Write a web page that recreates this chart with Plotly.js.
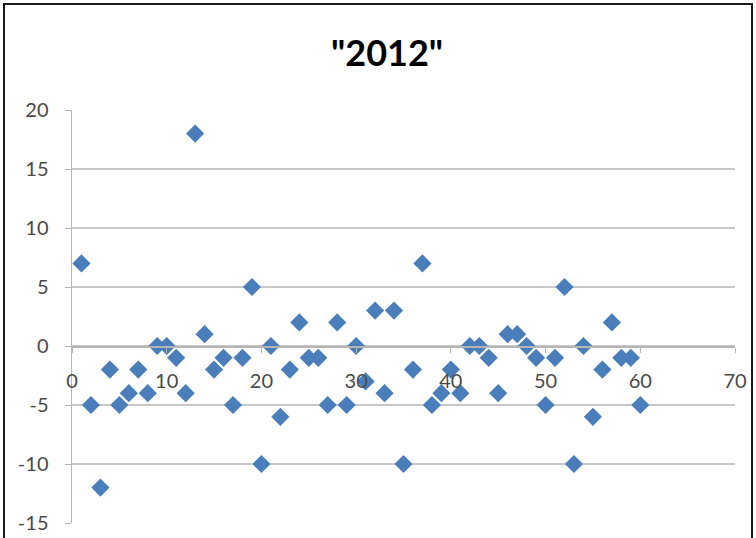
<!DOCTYPE html>
<html>
<head>
<meta charset="utf-8">
<script src="https://cdn.plot.ly/plotly-3.0.1.min.js"></script>
<style>
  html, body { margin: 0; padding: 0; background: #fff; }
  #wrap { position: relative; width: 756px; height: 538px; overflow: hidden; }
  #chart { position: absolute; left: 0; top: 0; width: 756px; height: 538px; }
  #frame { position: absolute; left: 3px; top: 3px; width: 746px; height: 545px;
           border: 2px solid #1a1a1a; pointer-events: none; }
</style>
</head>
<body>
<div id="wrap">
  <div id="chart"></div>
  <div id="frame"></div>
</div>
<script>
const titleText = '"2012"';
const xValues = [1,2,3,4,5,6,7,8,9,10,11,12,13,14,15,16,17,18,19,20,
                 21,22,23,24,25,26,27,28,29,30,31,32,33,34,35,36,37,38,39,40,
                 41,42,43,44,45,46,47,48,49,50,51,52,53,54,55,56,57,58,59,60];
const yValues = [7,-5,-12,-2,-5,-4,-2,-4,0,0,-1,-4,18,1,-2,-1,-5,-1,5,-10,
                 0,-6,-2,2,-1,-1,-5,2,-5,0,-3,3,-4,3,-10,-2,7,-5,-4,-2,
                 -4,0,0,-1,-4,1,1,0,-1,-5,-1,5,-10,0,-6,-2,2,-1,-1,-5];
const xTicks = [0,10,20,30,40,50,60,70];
const yTicks = [-15,-10,-5,0,5,10,15,20];

const yRange = [-15, 20];

const trace = {
  x: xValues,
  y: yValues,
  type: 'scatter',
  mode: 'markers',
  marker: { symbol: 'diamond', size: 14, color: '#4a7ebb', line: { width: 0 } },
  hoverinfo: 'x+y'
};

const tickFont = { family: 'Lato, "Liberation Sans", sans-serif', size: 20, color: '#4a4a4a' };

const layout = {
  width: 756,
  height: 538,
  margin: { l: 72, r: 21, t: 110, b: 15 },
  paper_bgcolor: '#ffffff',
  plot_bgcolor: '#ffffff',
  showlegend: false,
  title: {
    text: titleText,
    font: { family: 'Lato, "Liberation Sans", sans-serif', size: 36, color: '#000000', weight: 'bold' },
    xref: 'container', yref: 'container',
    x: 0.512, y: 0.9, xanchor: 'center', yanchor: 'middle'
  },
  xaxis: {
    range: [0, 70],
    tickvals: xTicks,
    ticktext: xTicks.map(String),
    anchor: 'free',
    position: (0 - yRange[0]) / (yRange[1] - yRange[0]),
    showline: true,
    linecolor: '#b5b5b5',
    linewidth: 1.5,
    ticks: 'outside',
    ticklen: 5,
    tickcolor: '#b5b5b5',
    showgrid: false,
    zeroline: false,
    ticklabelstandoff: 11,
    tickfont: tickFont,
    fixedrange: true
  },
  yaxis: {
    range: yRange,
    tickvals: yTicks,
    ticktext: yTicks.map(String),
    showline: true,
    linecolor: '#b5b5b5',
    linewidth: 1.5,
    ticks: 'outside',
    ticklen: 6,
    tickcolor: '#b5b5b5',
    showgrid: true,
    gridcolor: '#c8c8c8',
    gridwidth: 1.5,
    zeroline: false,
    ticklabelstandoff: 12,
    tickfont: tickFont,
    fixedrange: true
  }
};

Plotly.newPlot('chart', [trace], layout, { displayModeBar: false, staticPlot: true });
</script>
</body>
</html>
